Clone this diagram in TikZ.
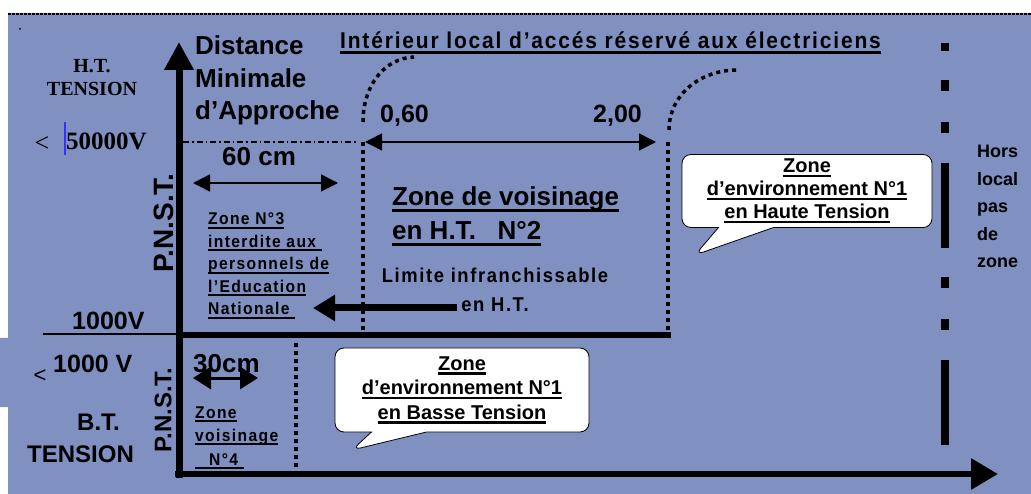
\documentclass[tikz,border=0pt]{standalone}
\usepackage{fontspec}
\setmainfont{Liberation Sans}
\newfontfamily\timesfont{Liberation Serif}
\newfontfamily\narrowfont{Liberation Sans}[FakeStretch=0.92,LetterSpace=8]
\usetikzlibrary{arrows.meta,shapes.callouts}
\definecolor{fond}{RGB}{127,144,193}
\newcommand\zul[1]{\leavevmode\setbox0\hbox{#1}\rlap{\vrule height -.1em depth .22em width \wd0}\box0}

\begin{document}
\begin{tikzpicture}[x=1pt,y=-1pt,
	dotline/.style={line width=4pt,dash pattern=on 4pt off 4pt},
	dimarrow/.style={line width=1.5pt,{Triangle[length=17pt,width=17pt]}-{Triangle[length=17pt,width=17pt]}},
	axis/.style={line width=7pt,-{Triangle[length=28pt,width=28pt]}},
	bulle/.style={rectangle callout,draw,fill=white,line width=.8pt,rounded corners=9pt,align=center,
		font=\bfseries\fontsize{20}{23}\selectfont,callout pointer width=55pt,inner sep=2pt},
	gros/.style={font=\bfseries\fontsize{25}{32}\selectfont,inner sep=0pt},
	etroit/.style={font=\narrowfont\bfseries\fontsize{17}{22.5}\selectfont,inner sep=0pt,align=left}]
	\useasboundingbox (0,0) rectangle (1031,494);
	\fill[fond] (8,13) rectangle (1031,494) (0,338) rectangle (8,407);
	\draw[line width=2.5pt,dash pattern=on 3pt off 1pt] (8,14) -- (1031,14);
	\fill (20,29) circle (1);
	\path
	(179,478) coordinate (O)
	(179,42) coordinate (Ytop)
	(175,474) coordinate (X0)
	(998,474) coordinate (Xend)
	(176,335) coordinate (Hg)
	(671,335) coordinate (Hd)
	(43,334) coordinate (Tg)
	(176,334) coordinate (Td)
	(183,142) coordinate (Da)
	(358,142) coordinate (Db)
	(363,142) coordinate (L0)
	(363,333) coordinate (L1)
	(668,142) coordinate (E0)
	(668,333) coordinate (E1)
	(296,343) coordinate (V0)
	(296,470) coordinate (V1)
	(945,43) coordinate (Z0)
	(945,447) coordinate (Z1)
	(365,142) coordinate (A1)
	(656,142) coordinate (A2)
	(193,183) coordinate (B1)
	(338,183) coordinate (B2)
	(193,378) coordinate (C1)
	(258,378) coordinate (C2)
	(457,308) coordinate (F1)
	(313,308) coordinate (F2)
	(695,255) coordinate (tipHT)
	(352,450) coordinate (tipBT)
	;
	% axes et limites
	\draw[axis] (O) -- (Ytop);
	\draw[axis,line width=6pt,-{Triangle[length=27pt,width=30pt]}] (X0) -- (Xend);
	\draw[line width=6pt] (Hg) -- (Hd);
	\draw[line width=1.2pt] (Tg) -- (Td);
	\draw[line width=1.2pt,dash pattern=on 6pt off 3pt on 1.5pt off 3pt] (Da) -- (Db);
	\draw[dotline] (L0) -- (L1) (E0) -- (E1) (V0) -- (V1);
	\draw[dotline,line width=3.5pt] (363,122) .. controls (363,85) and (385,58) .. (414,57);
	\draw[dotline,line width=3.5pt] (669,130) .. controls (669,95) and (700,70) .. (737,70);
	\draw[line width=8pt,dash pattern=on 85pt off 29pt on 11pt off 31pt on 11pt off 30pt,dash phase=77pt] (Z0) -- (Z1);
	\draw[dimarrow] (A1) -- (A2);
	\draw[dimarrow] (B1) -- (B2);
	\draw[line width=3pt,{Triangle[length=18pt,width=22pt]}-{Triangle[length=18pt,width=22pt]}] (C1) -- (C2);
	\draw[line width=7pt,-{Triangle[length=22pt,width=25pt]}] (F1) -- (F2);
	\draw[blue!80!white,line width=1.2pt] (65,122) -- (65,155);
	% textes
	\node[font=\timesfont\bfseries\fontsize{20}{23}\selectfont,align=center] (ht) at (92,78) {H.T.\\TENSION};
	\node[font=\timesfont\fontsize{26}{30}\selectfont,anchor=base,inner sep=0pt] (inf1) at (42,152) {<};
	\node[font=\timesfont\bfseries\fontsize{25}{30}\selectfont,anchor=base west,inner sep=0pt] (v50) at (66,150) {50000V};
	\node[gros,font=\bfseries\fontsize{26}{32.5}\selectfont,anchor=base west,align=left] (dma) at (195,120) {Distance\\Minimale\\d’Approche};
	\node[font=\narrowfont\bfseries\fontsize{22.8}{25}\selectfont,anchor=base west,inner sep=0pt] (titre) at (340,49) {\zul{Intérieur local d’accés réservé aux électriciens}};
	\node[gros,anchor=base west] (d060) at (380,123) {0,60};
	\node[gros,anchor=base west] (d200) at (593,123) {2,00};
	\node[gros,font=\bfseries\fontsize{26}{30}\selectfont,anchor=base west] (d60) at (222,166) {60 cm};
	\node[gros,font=\bfseries\fontsize{28}{30}\selectfont,rotate=90] (pnst1) at (164,223) {P.N.S.T.};
	\node[etroit,anchor=base west] (z3) at (208,315) {\zul{Zone N°3}\\\zul{interdite aux\ }\\\zul{personnels de}\\\zul{l’Education}\\\zul{Nationale\ }};
	\node[gros,font=\bfseries\fontsize{26}{34}\selectfont,anchor=base west,align=left] (z2) at (392,240) {\zul{Zone de voisinage}\\\zul{en H.T.~~~N°2}};
	\node[font=\narrowfont\bfseries\fontsize{20}{29}\selectfont,anchor=base,align=center,inner sep=0pt] (lim) at (495,312) {Limite infranchissable\\en H.T.};
	\node[bulle,minimum width=250pt,minimum height=73pt,callout absolute pointer={(tipHT)}] (envHT) at (807,191) {\zul{Zone}\\\zul{d’environnement N°1}\\\zul{en Haute Tension}};
	\node[gros,anchor=base west] (v1000) at (72,330) {1000V};
	\node[font=\fontsize{22}{26}\selectfont,anchor=base,inner sep=0pt] (inf2) at (40,382) {<};
	\node[gros,anchor=base west] (v1000b) at (53,372) {1000 V};
	\node[gros,font=\bfseries\fontsize{24}{32}\selectfont,anchor=base west,align=left] (bt) at (27,462) {\hspace*{50pt}B.T.\\TENSION};
	\node[gros,font=\bfseries\fontsize{24}{30}\selectfont,rotate=90] (pnst2) at (163,410) {P.N.S.T.};
	\node[gros,font=\bfseries\fontsize{26}{30}\selectfont,anchor=base west] (d30) at (193,373) {30cm};
	\node[etroit,font=\narrowfont\bfseries\fontsize{17}{23.5}\selectfont,anchor=base west] (z4) at (195,465) {\zul{Zone}\\\zul{voisinage}\\\zul{\hspace*{14pt}N°4\ }};
	\node[bulle,font=\bfseries\fontsize{20}{24.5}\selectfont,minimum width=254pt,minimum height=84pt,callout absolute pointer={(tipBT)}] (envBT) at (462,390) {\zul{Zone}\\\zul{d’environnement N°1}\\\zul{en Basse Tension}};
	\node[font=\bfseries\fontsize{18}{27.5}\selectfont,anchor=base west,align=left,inner sep=0pt] (hors) at (977,268) {Hors\\local\\pas\\de\\zone};
\end{tikzpicture}
\end{document}
